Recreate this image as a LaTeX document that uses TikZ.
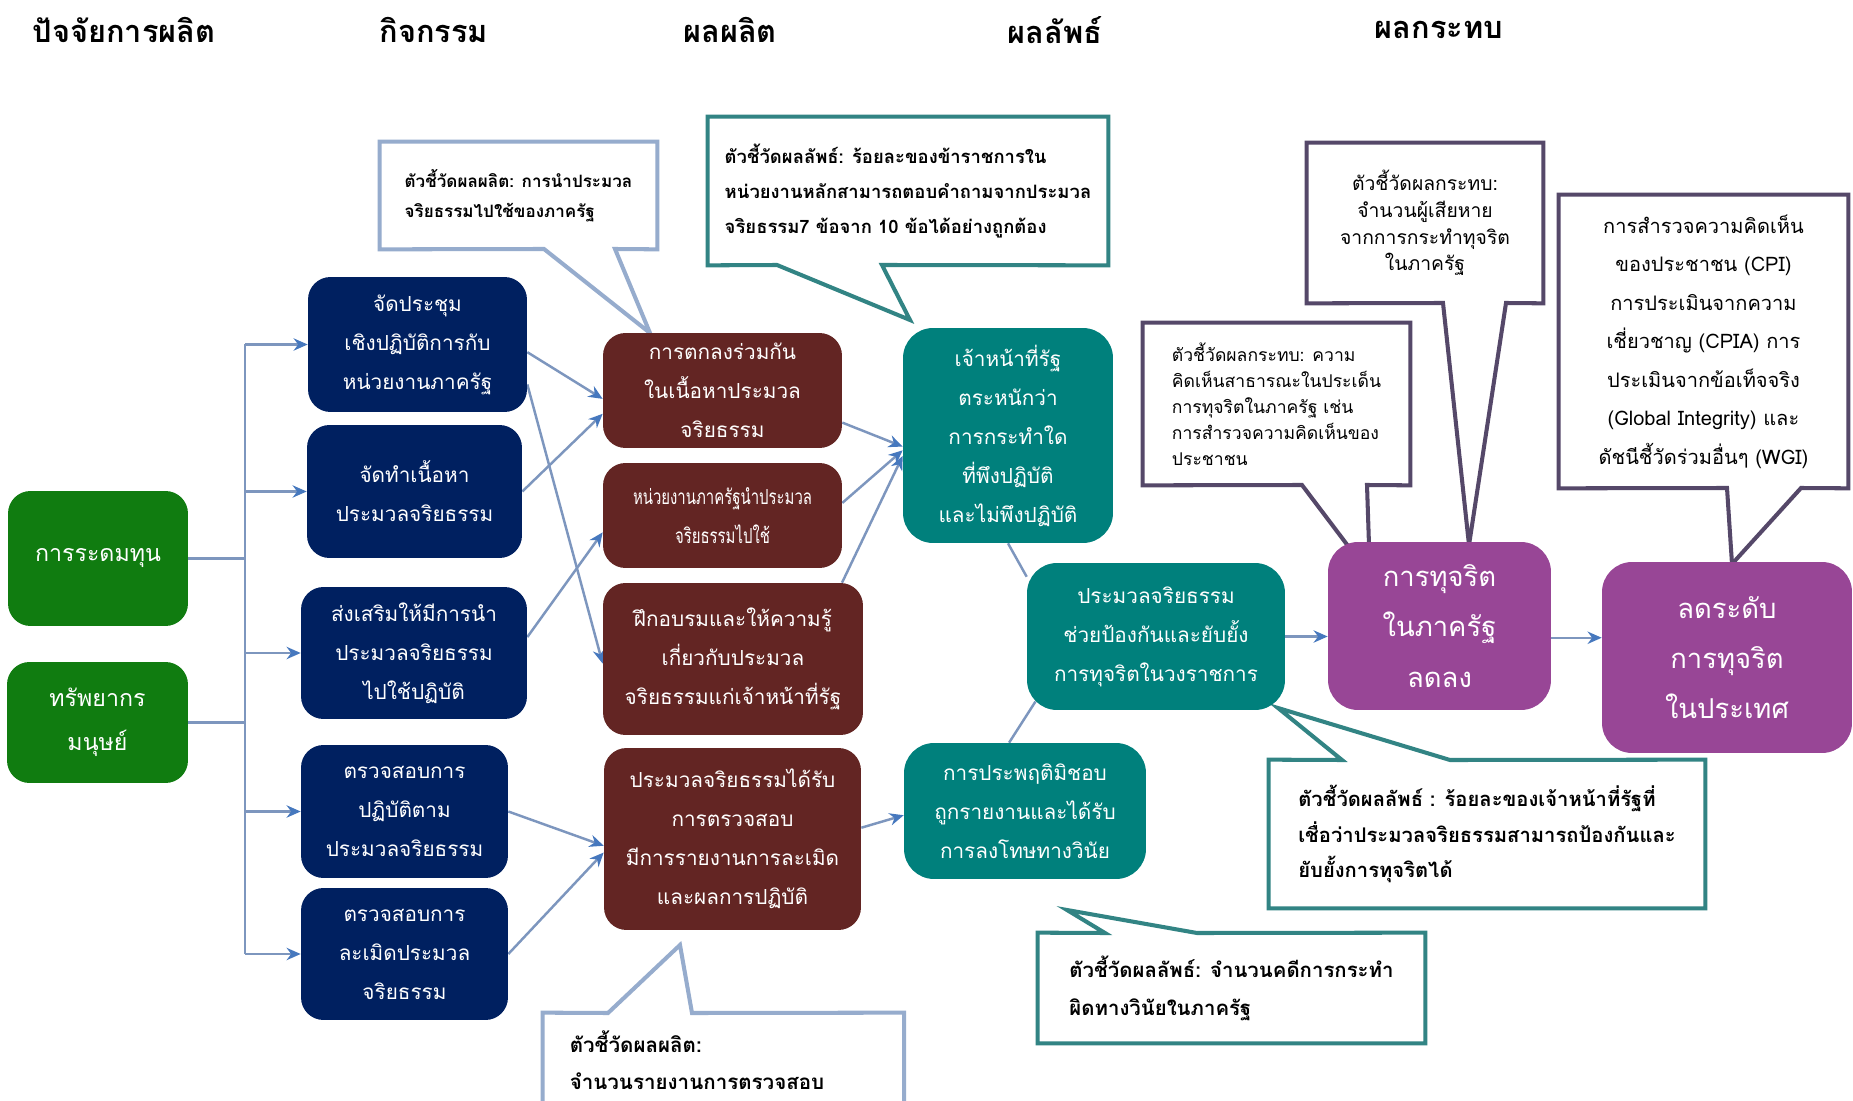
\documentclass[tikz,border=0pt]{standalone}
\usepackage{fontspec}
\setmainfont[Script=Thai]{Loma}
\usepackage{xcolor}
\usetikzlibrary{arrows.meta,backgrounds}

\definecolor{inputgreen}{RGB}{16,124,16}
\definecolor{actnavy}{RGB}{0,32,96}
\definecolor{outmaroon}{RGB}{99,37,35}
\definecolor{octeal}{RGB}{0,128,124}
\definecolor{impurple}{RGB}{152,70,150}
\definecolor{linkgrey}{RGB}{125,150,190}
\definecolor{tipblue}{RGB}{70,120,190}
\definecolor{calloutblue}{RGB}{150,172,205}
\definecolor{calloutteal}{RGB}{50,132,132}
\definecolor{calloutpurple}{RGB}{85,72,105}

\begin{document}
\begin{tikzpicture}[x=0.02cm,y=-0.02cm]
    % Styles for boxes, callouts and lines
    \tikzset{
      box/.style={rectangle, rounded corners=0.45cm, align=center, text=white, inner sep=2pt, font=\fontsize{11.8}{22.2}\selectfont},
      greenbox/.style={box, fill=inputgreen, font=\fontsize{13.2}{25}\selectfont},
      navybox/.style={box, fill=actnavy},
      maroonbox/.style={box, fill=outmaroon},
      tealbox/.style={box, fill=octeal, rounded corners=0.6cm},
      purplebox/.style={box, fill=impurple, rounded corners=0.6cm, font=\fontsize{15.6}{28.5}\selectfont},
      head/.style={font=\fontsize{17.5}{20}\selectfont\bfseries},
      note/.style={rectangle, inner sep=0pt, align=left, font=\fontsize{11.5}{20}\selectfont\bfseries},
      callout/.style={fill=white, line width=2.3pt, line join=miter},
      link/.style={draw=linkgrey, line width=1.4pt},
      arrow/.style={link, -{Stealth[length=8pt,width=7pt,color=tipblue]}}
    }

    \useasboundingbox (0,0) rectangle (1853,1101);
    \begin{pgfonlayer}{background}
      \fill[white] (0,0) rectangle (1853,1101);
    \end{pgfonlayer}

    % Column headings
    \node[head] (hInput) at (124,30) {ปัจจัยการผลิต};
    \node[head] (hAct) at (434,30) {กิจกรรม};
    \node[head] (hOut) at (730,30) {ผลผลิต};
    \node[head] (hOc) at (1055,30) {ผลลัพธ์};
    \node[head] (hIm) at (1439,30) {ผลกระทบ};

    % Inputs
    \node[greenbox, minimum width=3.6cm, minimum height=2.7cm] (res1) at (98,558.5) {การระดมทุน};
    \node[greenbox, minimum width=3.62cm, minimum height=2.42cm] (res2) at (97.5,722.5) {ทรัพยากร\\มนุษย์};

    % Activities
    \node[navybox, minimum width=4.38cm, minimum height=2.7cm] (act1) at (417.5,344.5) {จัดประชุม\\เชิงปฏิบัติการกับ\\หน่วยงานภาครัฐ};
    \node[navybox, minimum width=4.3cm, minimum height=2.66cm] (act2) at (414.5,491.5) {จัดทำเนื้อหา\\ประมวลจริยธรรม};
    \node[navybox, minimum width=4.52cm, minimum height=2.64cm] (act3) at (414,653) {ส่งเสริมให้มีการนำ\\ประมวลจริยธรรม\\ไปใช้ปฏิบัติ};
    \node[navybox, minimum width=4.14cm, minimum height=2.66cm] (act4) at (404.5,811.5) {ตรวจสอบการ\\ปฏิบัติตาม\\ประมวลจริยธรรม};
    \node[navybox, minimum width=4.14cm, minimum height=2.64cm] (act5) at (404.5,954) {ตรวจสอบการ\\ละเมิดประมวล\\จริยธรรม};

    % Outputs
    \node[maroonbox, minimum width=4.78cm, minimum height=2.3cm] (out1) at (722.5,390.5) {การตกลงร่วมกัน\\ในเนื้อหาประมวล\\จริยธรรม};
    \node[maroonbox, font=\fontsize{11.8}{22.2}\selectfont\addfontfeature{FakeStretch=0.72}, minimum width=4.78cm, minimum height=2.1cm] (out2) at (722.5,515.5) {หน่วยงานภาครัฐนำประมวล\\จริยธรรมไปใช้};
    \node[maroonbox, minimum width=5.2cm, minimum height=3.04cm] (out3) at (733,659) {ฝึกอบรมและให้ความรู้\\เกี่ยวกับประมวล\\จริยธรรมแก่เจ้าหน้าที่รัฐ};
    \node[maroonbox, minimum width=5.14cm, minimum height=3.64cm] (out4) at (732.5,839) {ประมวลจริยธรรมได้รับ\\การตรวจสอบ\\มีการรายงานการละเมิด\\และผลการปฏิบัติ};

    % Outcomes
    \node[tealbox, minimum width=4.2cm, minimum height=4.3cm] (oc1) at (1008,435.5) {เจ้าหน้าที่รัฐ\\ตระหนักว่า\\การกระทำใด\\ที่พึงปฏิบัติ\\และไม่พึงปฏิบัติ};
    \node[tealbox, minimum width=5.16cm, minimum height=2.94cm] (oc2) at (1156,636.5) {ประมวลจริยธรรม\\ช่วยป้องกันและยับยั้ง\\การทุจริตในวงราชการ};
    \node[tealbox, minimum width=4.84cm, minimum height=2.72cm] (oc3) at (1025,811) {การประพฤติมิชอบ\\ถูกรายงานและได้รับ\\การลงโทษทางวินัย};

    % Impacts
    \node[purplebox, minimum width=4.46cm, minimum height=3.36cm] (im1) at (1439.5,626) {การทุจริต\\ในภาครัฐ\\ลดลง};
    \node[purplebox, minimum width=5cm, minimum height=3.82cm] (im2) at (1727,657.5) {ลดระดับ\\การทุจริต\\ในประเทศ};

    % Indicator callouts
    \node[note, font=\fontsize{9.7}{17}\selectfont\bfseries, minimum width=5.54cm, minimum height=2.14cm] (cOutA) at (518.5,195.5) {ตัวชี้วัดผลผลิต: การนำประมวล\\จริยธรรมไปใช้ของภาครัฐ};
    \node[note, font=\fontsize{11.7}{21}\selectfont\bfseries, minimum width=6.16cm, minimum height=1.88cm] (cOutB) at (697,1060) {ตัวชี้วัดผลผลิต:\\จำนวนรายงานการตรวจสอบ};
    \node[note, font=\fontsize{10.5}{20}\selectfont\bfseries, minimum width=8cm, minimum height=2.96cm] (cOcA) at (908,191) {ตัวชี้วัดผลลัพธ์: ร้อยละของข้าราชการใน\\หน่วยงานหลักสามารถตอบคำถามจากประมวล\\จริยธรรม7 ข้อจาก 10 ข้อได้อย่างถูกต้อง};
    \node[note, minimum width=8.72cm, minimum height=2.96cm] (cOcB) at (1487,834) {ตัวชี้วัดผลลัพธ์ : ร้อยละของเจ้าหน้าที่รัฐที่\\เชื่อว่าประมวลจริยธรรมสามารถป้องกันและ\\ยับยั้งการทุจริตได้};
    \node[note, font=\fontsize{11.6}{21.6}\selectfont\bfseries, minimum width=7.74cm, minimum height=2.2cm] (cOcC) at (1231.5,988) {ตัวชี้วัดผลลัพธ์: จำนวนคดีการกระทำ\\ผิดทางวินัยในภาครัฐ};
    \node[note, font=\fontsize{10}{14.8}\selectfont, minimum width=5.34cm, minimum height=3.24cm] (cImA) at (1276.5,404) {ตัวชี้วัดผลกระทบ: ความ\\คิดเห็นสาธารณะในประเด็น\\การทุจริตในภาครัฐ เช่น\\การสำรวจความคิดเห็นของ\\ประชาชน};
    \node[note, align=center, font=\fontsize{11}{15.2}\selectfont, minimum width=4.72cm, minimum height=3.2cm] (cImB) at (1425,223) {ตัวชี้วัดผลกระทบ:\\จำนวนผู้เสียหาย\\จากการกระทำทุจริต\\ในภาครัฐ};
    \node[note, align=center, font=\fontsize{11.4}{21.9}\selectfont, minimum width=5.78cm, minimum height=5.86cm] (cImC) at (1703.5,341.5) {การสำรวจความคิดเห็น\\ของประชาชน (CPI)\\การประเมินจากความ\\เชี่ยวชาญ (CPIA) การ\\ประเมินจากข้อเท็จจริง\\(Global Integrity) และ\\ดัชนีชี้วัดร่วมอื่นๆ (WGI)};

    \begin{pgfonlayer}{background}
      % Callout outlines with pointers
      \draw[callout, draw=calloutblue] (cOutA.north west) -- (cOutA.north east) -- (cOutA.south east) -- (615,249) -- (650,333) -- (544,249) -- (cOutA.south west) -- cycle;
      \draw[callout, draw=calloutblue] ([yshift=-20pt]cOutB.south west) -- (cOutB.north west) -- (608,1013) -- (680,945) -- (692,1013) -- ([xshift=30pt]cOutB.north east) -- ([xshift=30pt,yshift=-20pt]cOutB.south east);
      \draw[callout, draw=calloutteal] (cOcA.north west) -- (cOcA.north east) -- (cOcA.south east) -- (882,265) -- (910,320) -- (777,265) -- (cOcA.south west) -- cycle;
      \draw[callout, draw=calloutteal] (cOcB.north west) -- (1342,760) -- (1278,708) -- (1450,760) -- (cOcB.north east) -- (cOcB.south east) -- (cOcB.south west) -- cycle;
      \draw[callout, draw=calloutteal] (cOcC.north west) -- (1105,933) -- (1067,910) -- (1197,933) -- (cOcC.north east) -- (cOcC.south east) -- (cOcC.south west) -- cycle;
      \draw[callout, draw=calloutpurple] (cImA.north west) -- (cImA.north east) -- (cImA.south east) -- (1367,485) -- (1370,575) -- (1302,485) -- (cImA.south west) -- cycle;
      \draw[callout, draw=calloutpurple] (cImB.north west) -- (cImB.north east) -- (cImB.south east) -- (1506,303) -- (1469,545) -- (1443,303) -- (cImB.south west) -- cycle;
      \draw[callout, draw=calloutpurple] (cImC.north west) -- (cImC.north east) -- (cImC.south east) -- (1801,488) -- (1732,564) -- (1727,488) -- (cImC.south west) -- cycle;

      % Inputs to activities
      \coordinate (bus) at (245,0);
      \draw[link] (res1.east) -- (res1.east -| bus);
      \draw[link] (res2.east) -- (res2.east -| bus);
      \draw[link] (bus |- act1.west) -- (bus |- act5.west);
      \draw[arrow] (bus |- act1.west) -- (act1.west);
      \draw[arrow] (bus |- act2.west) -- (act2.west);
      \draw[arrow] (bus |- act3.west) -- (act3.west);
      \draw[arrow] (bus |- act4.west) -- (act4.west);
      \draw[arrow] (bus |- act5.west) -- (act5.west);

      % Activities to outputs
      \draw[arrow] (act1.-4) -- (out1.184);
      \draw[arrow] (act1.-20) -- (out3.182);
      \draw[arrow] (act2.east) -- (out1.191);
      \draw[arrow] (act3.8) -- (out2.188);
      \draw[arrow] (act4.east) -- (out4.183);
      \draw[arrow] (act5.east) -- (out4.186);

      % Outputs to outcomes
      \draw[arrow] (out1.-15) -- (oc1.186);
      \draw[arrow] (out2.6) -- (oc1.188);
      \draw[arrow] (out3.35) -- (oc1.191);
      \draw[arrow] (out4.5) -- (oc3.182);
      \draw[link] (oc1.south) -- ([yshift=-8pt]oc2.north west);
      \draw[link] ([xshift=60pt]oc3.north west) -- ([xshift=5pt,yshift=5pt]oc2.south west);

      % Outcomes to impacts
      \draw[arrow] (oc2.east) -- (oc2.east -| im1.west);
      \draw[arrow] (im1.-6) -- (im1.-6 -| im2.west);
    \end{pgfonlayer}

\end{tikzpicture}
\end{document}
